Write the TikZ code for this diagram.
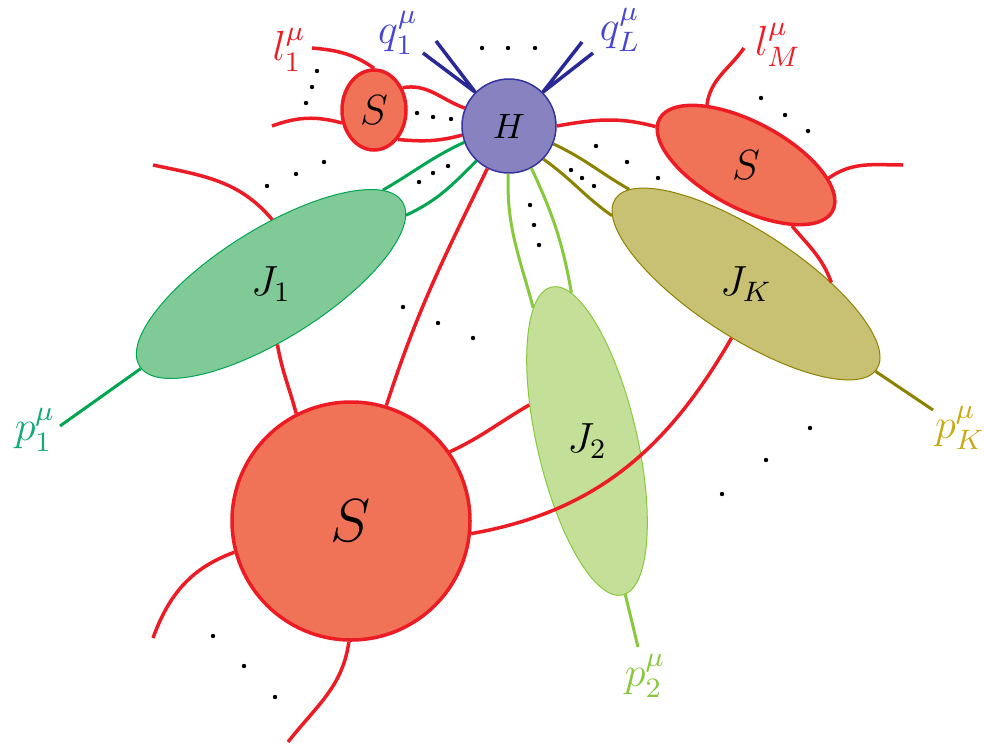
\documentclass[tikz,border=0pt]{standalone}
\usepackage{tikz}
\usepackage{amsmath,amssymb}
\usetikzlibrary{shapes.geometric}
\definecolor{softRed}{RGB}{237,28,36}
\definecolor{softFill}{RGB}{240,115,87}
\definecolor{hardFill}{RGB}{136,130,192}
\definecolor{hardEdge}{RGB}{50,50,160}
\definecolor{photonBlue}{RGB}{40,40,150}
\definecolor{photonText}{RGB}{70,70,210}
\definecolor{jetOneLine}{RGB}{0,165,80}
\definecolor{jetOneFill}{RGB}{128,202,152}
\definecolor{jetOneText}{RGB}{20,170,120}
\definecolor{jetTwoLine}{RGB}{135,200,60}
\definecolor{jetTwoFill}{RGB}{196,224,152}
\definecolor{jetKLine}{RGB}{140,130,0}
\definecolor{jetKFill}{RGB}{200,192,115}
\definecolor{jetKText}{RGB}{200,170,20}
\newcommand{\DotRow}[3]{\fill (#1) circle (2.2) (#2) circle (2.2) (#3) circle (2.2);}

\begin{document}
\begin{tikzpicture}[x=0.1mm,y=0.1mm,
  hardblob/.style={circle,draw=hardEdge,fill=hardFill,line width=0.15mm,minimum size=9.4mm,inner sep=0pt},
  softblob/.style={ellipse,draw=softRed,fill=softFill,line width=0.35mm,inner sep=0pt},
  jetblob/.style={ellipse,line width=0.1mm,inner sep=0pt},
  sline/.style={softRed,line width=0.35mm},
  qline/.style={photonBlue,line width=0.35mm},
  jetoneline/.style={jetOneLine,line width=0.3mm},
  jettwoline/.style={jetTwoLine,line width=0.3mm},
  jetkline/.style={jetKLine,line width=0.3mm}]
\useasboundingbox (0,0) rectangle (984,-744);

% blobs
\node[hardblob] (H) at (509,-126) {$H$};
\node[softblob,minimum width=6.4mm,minimum height=8mm,font=\large] (SL) at (374,-110) {$S$};
\node[softblob,minimum width=19.6mm,minimum height=8.6mm,rotate=-28] (SR) at (746,-165) {};
\node[softblob,minimum width=23.8mm,minimum height=23.8mm,font=\LARGE] (S) at (351,-521) {$S$};
\node[jetblob,draw=jetOneLine,fill=jetOneFill,minimum width=31mm,minimum height=11mm,rotate=32] (J1) at (271,-284) {};
\node[jetblob,draw=jetTwoLine,fill=jetTwoFill,minimum width=31.6mm,minimum height=10mm,rotate=-77] (J2) at (587,-441) {};
\node[jetblob,draw=jetKLine,fill=jetKFill,minimum width=31.2mm,minimum height=10.6mm,rotate=-33] (JK) at (746,-284) {};

% free ends
\coordinate (qa) at (436,-41);
\coordinate (qb) at (423,-53);
\coordinate (qc) at (582,-42);
\coordinate (qd) at (593,-53);
\coordinate (l1) at (312,-48);
\coordinate (lw) at (272,-126);
\coordinate (lM) at (744,-48);
\coordinate (le) at (903,-165);
\coordinate (lj) at (153,-165);
\coordinate (lsw) at (153,-638);
\coordinate (ls) at (288,-742);
\coordinate (p1) at (60,-426);
\coordinate (p2) at (638,-647);
\coordinate (pK) at (933,-410);

% hard lines
\draw[qline] (H.135) -- (qa) (H.135) -- (qb) (H.45) -- (qc) (H.45) -- (qd);

% soft lines
\draw[sline] (l1) to[out=-5,in=145] (SL.90);
\draw[sline] (lw) to[out=20,in=165] (SL.202);
\draw[sline] (SL.38) to[out=10,in=160] (H.158);
\draw[sline] (SL.309) to[out=-5,in=195] (H.191);
\draw[sline] (H.0) to[out=10,in=165] (SR.185);
\draw[sline] (SR.151) to[out=82,in=235] (lM);
\draw[sline] (SR.19) to[out=35,in=180] (le);
\draw[sline] (SR.335) to[out=-50,in=110] (JK.34);
\draw[sline] (lj) to[out=-12,in=130] (J1.57);
\draw[sline] (J1.244) to[out=-80,in=105] (S.117);
\draw[sline] (H.243) to[out=244,in=72] (S.73);
\draw[sline] (S.35) to[out=25,in=210] (J2.225);
\draw[sline] (S.354) to[out=10,in=240] (JK.288);
\draw[sline] (S.195) to[out=200,in=70] (lsw);
\draw[sline] (S.269) to[out=262,in=52] (ls);

% collinear lines
\draw[jetoneline] (H.200) to[out=205,in=30] (J1.8);
\draw[jetoneline] (H.227) to[out=225,in=25] (J1.355);
\draw[jetoneline] (J1.181) -- (p1);
\draw[jettwoline] (H.269) to[out=268,in=105] (J2.189);
\draw[jettwoline] (H.298) to[out=295,in=100] (J2.173);
\draw[jettwoline] (J2.1) -- (p2);
\draw[jetkline] (H.338) to[out=-25,in=150] (JK.174);
\draw[jetkline] (H.316) to[out=-35,in=145] (JK.186);
\draw[jetkline] (JK.359) -- (pK);

% dots
\DotRow{482,-48}{508,-48}{535,-48}
\DotRow{317,-71}{312,-87}{306,-103}
\DotRow{417,-113}{433,-117}{451,-119}
\DotRow{267,-186}{296,-174}{324,-162}
\DotRow{419,-182}{433,-173}{448,-166}
\DotRow{403,-307}{438,-323}{473,-338}
\DotRow{530,-205}{534,-225}{539,-245}
\DotRow{571,-170}{582,-178}{594,-186}
\DotRow{596,-146}{627,-162}{658,-178}
\DotRow{761,-98}{785,-115}{808,-131}
\DotRow{810,-428}{766,-460}{722,-494}
\DotRow{213,-636}{244,-666}{275,-697}

% labels
\node[font=\large] (SRlab) at (SR) {$S$};
\node[font=\large] (J1lab) at (J1) {$J_1$};
\node[font=\large] (J2lab) at (J2) {$J_2$};
\node[font=\large] (JKlab) at (JK) {$J_K$};
\node[text=softRed,font=\large] (l1lab) at (289,-50) {$l_1^\mu$};
\node[text=photonText,font=\large] (q1lab) at (398,-33) {$q_1^\mu$};
\node[text=photonText,font=\large] (qLlab) at (620,-30) {$q_L^\mu$};
\node[text=softRed,font=\large] (lMlab) at (778,-45) {$l_M^\mu$};
\node[text=jetOneText,font=\large] (p1lab) at (35,-430) {$p_1^\mu$};
\node[text=jetTwoLine,font=\large] (p2lab) at (645,-676) {$p_2^\mu$};
\node[text=jetKText,font=\large] (pKlab) at (960,-428) {$p_K^\mu$};
\end{tikzpicture}
\end{document}
